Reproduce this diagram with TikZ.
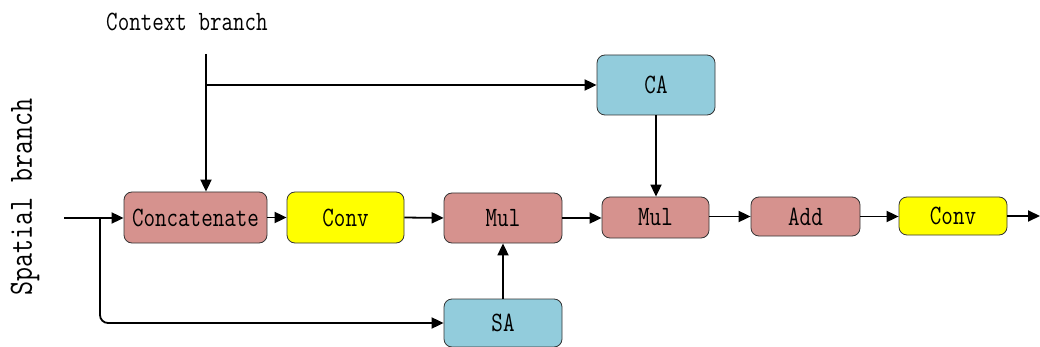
\documentclass[tikz,border=0pt]{standalone}
\usepackage{fontspec}
\usetikzlibrary{arrows.meta}
\definecolor{opfill}{RGB}{214,146,142}
\definecolor{attfill}{RGB}{146,204,220}
\definecolor{convfill}{RGB}{255,255,0}
\newcommand{\boxtext}[1]{\scalebox{0.8}[1]{\ttfamily\fontsize{28}{30}\selectfont #1}}
\tikzset{
  blk/.style={draw=black!80, line width=0.8pt, rounded corners=8pt, inner sep=0pt},
  opbox/.style={blk, fill=opfill},
  attbox/.style={blk, fill=attfill},
  convbox/.style={blk, fill=convfill},
  flow/.style={line width=1.8pt, -{Triangle[length=12pt,width=11pt]}},
  wire/.style={line width=1.8pt},
}
\begin{document}
\begin{tikzpicture}[x=1pt,y=-1pt]
\useasboundingbox (0,0) rectangle (1040,347);

% labels of the two inputs
\node (ctxlabel) at (187,22) {\boxtext{Context branch}};
\node[rotate=90] (splabel) at (25,197) {\scalebox{0.8}[1]{\ttfamily\fontsize{34}{36}\selectfont Spatial branch}};

% processing blocks
\node[opbox, minimum width=143pt, minimum height=51pt] (concat) at (195.5,217.5) {\boxtext{Concatenate}};
\node[convbox, minimum width=117pt, minimum height=51pt] (conv1) at (345.5,217.5) {\boxtext{Conv}};
\node[opbox, minimum width=118pt, minimum height=50pt] (mul1) at (503,218) {\boxtext{Mul}};
\node[opbox, minimum width=107pt, minimum height=41pt] (mul2) at (655.5,217.5) {\boxtext{Mul}};
\node[attbox, minimum width=118pt, minimum height=60pt] (ca) at (656,85) {\boxtext{CA}};
\node[opbox, minimum width=109pt, minimum height=39pt] (add) at (805.5,216.5) {\boxtext{Add}};
\node[convbox, minimum width=108pt, minimum height=38pt] (conv2) at (953,216) {\boxtext{Conv}};
\node[attbox, minimum width=118pt, minimum height=48pt] (sa) at (503,323) {\boxtext{SA}};

% free ends and junctions
\coordinate (ctxtop) at (206,54);
\coordinate (ctxsplit) at (206,85);
\coordinate (spin) at (64,218);
\coordinate (spsplit) at (100,218);
\coordinate (out) at (1040,216);

% context branch
\draw[wire] (ctxtop) -- (ctxsplit);
\draw[flow] (ctxsplit) -- (ctxsplit |- concat.north);
\draw[flow] (ctxsplit) -- (ctxsplit -| ca.west);
\draw[flow] (ca.south) -- (ca.south |- mul2.north);

% spatial branch
\draw[flow] (spin) -- (spin -| concat.west);
\draw[flow, rounded corners=8pt] (spsplit) -- (spsplit |- sa.west) -- (sa.west);
\draw[flow] (sa.north) -- (mul1.south);

% main path
\draw[flow] (concat.east) -- (conv1.west);
\draw[flow] (conv1.east) -- (mul1.west);
\draw[flow] (mul1.east) -- (mul1.east -| mul2.west);
\draw[flow] (mul2.east |- add.west) -- (add.west);
\draw[flow] (add.east) -- (add.east -| conv2.west);
\draw[flow] (conv2.east) -- (out);
\end{tikzpicture}
\end{document}
